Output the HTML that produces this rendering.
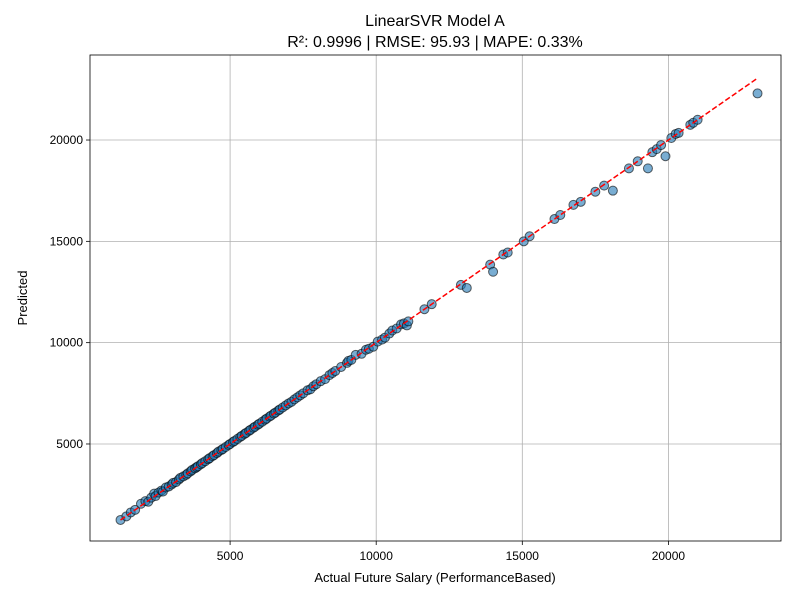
<!DOCTYPE html>
<html><head><meta charset="utf-8"><style>
body{margin:0;background:#fff;font-family:"Liberation Sans","DejaVu Sans",sans-serif}
svg text{font-family:"Liberation Sans","DejaVu Sans",sans-serif}
</style></head><body>
<svg id="chart" width="800" height="600" xmlns="http://www.w3.org/2000/svg">
<rect width="800" height="600" fill="#fff"/>
<text x="435" y="26" text-anchor="middle" font-size="16">LinearSVR Model A</text>
<text x="435" y="47" text-anchor="middle" font-size="16">R²: 0.9996 | RMSE: 95.93 | MAPE: 0.33%</text>
<g id="grid"></g><g id="pts"></g><g id="line"></g><g id="axes"></g>
<text x="435" y="582" text-anchor="middle" font-size="13">Actual Future Salary (PerformanceBased)</text>
<text transform="translate(27,298) rotate(-90)" text-anchor="middle" font-size="13">Predicted</text>
</svg>
<script>
const xTicks=[5000,10000,15000,20000];
const yTicks=[5000,10000,15000,20000];
const actual=[1250,1450,1600,1750,1950,2100,2200,2300,2400,2450,2550,2650,2700,2800,2900,3000,3050,3150,3250,3300,3400,3500,3550,3650,3700,3800,3850,3900,4000,4050,4150,4250,4300,4400,4450,4550,4600,4700,4750,4850,4950,5000,5100,5150,5250,5350,5400,5500,5550,5650,5700,5800,5850,5950,6000,6100,6200,6250,6350,6400,6500,6550,6650,6700,6800,6900,7000,7100,7200,7300,7400,7500,7650,7750,7850,7950,8100,8250,8400,8500,8600,8800,9000,9050,9150,9300,9500,9650,9750,9900,10050,10200,10300,10450,10550,10700,10850,10950,11050,11100,11650,11900,12900,13100,13900,14000,14350,14500,15050,15250,16100,16300,16750,17000,17500,17800,18100,18650,18950,19300,19450,19600,19750,19900,20100,20250,20350,20750,20850,21000,23050];
const predicted=[1250,1430,1620,1750,2050,2180,2150,2350,2550,2430,2600,2700,2650,2850,2900,3000,3080,3120,3250,3330,3400,3480,3550,3650,3720,3800,3850,3900,4000,4060,4150,4250,4300,4400,4450,4550,4620,4700,4750,4850,4950,5000,5100,5150,5250,5350,5400,5500,5550,5650,5700,5800,5850,5950,6000,6100,6200,6250,6350,6400,6500,6550,6650,6700,6800,6900,7000,7080,7200,7300,7400,7500,7650,7700,7850,7950,8100,8200,8400,8500,8600,8800,9000,9100,9150,9400,9450,9650,9700,9800,10050,10150,10250,10450,10600,10700,10900,10950,10850,11050,11650,11900,12850,12700,13850,13500,14350,14450,15000,15250,16100,16300,16800,16950,17450,17750,17500,18600,18950,18600,19400,19550,19750,19200,20100,20300,20350,20750,20850,21000,22300];
const X=v=>84+v*0.02922, Y=v=>545.3-v*0.020264;
const ns="http://www.w3.org/2000/svg";
function mk(t,a,p){const e=document.createElementNS(ns,t);for(const k in a)e.setAttribute(k,a[k]);p.appendChild(e);return e;}
const g=document.getElementById('grid'),ax=document.getElementById('axes'),pts=document.getElementById('pts'),ln=document.getElementById('line');
xTicks.forEach(t=>{const x=X(t);
const l=mk('line',{x1:x,x2:x,y1:55,y2:541,stroke:'#b0b0b0','stroke-width':0.8},g);

mk('line',{x1:x,x2:x,y1:541,y2:545,stroke:'#000','stroke-width':0.8},ax);
const tx=mk('text',{x:x,y:560,'text-anchor':'middle','font-size':12},ax);tx.textContent=t;
});
yTicks.forEach(t=>{const y=Y(t);
const l=mk('line',{x1:90,x2:781,y1:y,y2:y,stroke:'#b0b0b0','stroke-width':0.8},g);

mk('line',{x1:86,x2:90,y1:y,y2:y,stroke:'#000','stroke-width':0.8},ax);
const tx=mk('text',{x:83,y:y+4,'text-anchor':'end','font-size':12},ax);tx.textContent=t;
});
const fr=mk('rect',{x:90,y:55,width:691,height:486,fill:'none',stroke:'#000','stroke-width':0.8},ax);

actual.forEach((a,i)=>{const c=mk('circle',{cx:X(a),cy:Y(predicted[i]),r:4.5,fill:'rgba(31,119,180,0.6)',stroke:'rgba(0,0,0,0.6)','stroke-width':1},pts);
});
const mn=Math.min(...actual),mx=Math.max(...actual);
const d=mk('line',{x1:X(mn),y1:Y(mn),x2:X(mx),y2:Y(mx),stroke:'red','stroke-width':1.5,'stroke-dasharray':'5.5,2.5'},ln);

</script>
</body></html>
